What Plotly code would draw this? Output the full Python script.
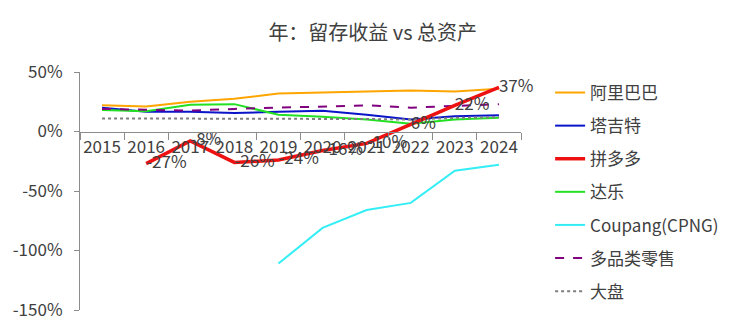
import plotly.graph_objects as go

years = ["2015", "2016", "2017", "2018", "2019", "2020", "2021", "2022", "2023", "2024"]

alibaba = [22, 21, 25, 27.5, 32, 33, 34, 34.5, 33.6, 36]
target = [20, 16.5, 16.5, 15.5, 16.5, 17.5, 14, 10, 12.8, 13.6]
pdd = [None, -27, -8, -26, -24, -16, -10, 6, 22, 37]
pdd_labels = ["", "-27%", "-8%", "-26%", "-24%", "-16%", "-10%", "6%", "22%", "37%"]
dollar_general = [18, 17, 22.5, 23, 14, 12.5, 10, 6.5, 10, 11.5]
coupang = [None, None, None, None, -111, -81, -66, -60, -33, -28]
multi_retail = [19, 18, 17.5, 19, 20, 20.5, 22, 20, 21.5, 23]
market = [11, 11, 11, 11, 11, 10.5, 10.5, 10, 11.5, 12]

y_ticks = [-150, -100, -50, 0, 50]
y_tick_labels = ["-150%", "-100%", "-50%", "0%", "50%"]

names = ["阿里巴巴", "塔吉特", "拼多多", "达乐", "Coupang(CPNG)", "多品类零售", "大盘"]

FONT = "Noto Sans CJK SC"
TXT = "#404040"

fig = go.Figure()

def add(y, name, color, width, dash, rank):
    fig.add_trace(go.Scatter(
        x=years, y=y, name=name, mode="lines",
        line=dict(color=color, width=width, dash=dash),
        legendgroup=name, legendrank=rank,
    ))

add(alibaba, names[0], "#FFA500", 2, "solid", 1)
add(target, names[1], "#0A14C8", 2, "solid", 2)
add(dollar_general, names[3], "#22E022", 2, "solid", 4)
add(coupang, names[4], "#33EEF5", 2, "solid", 5)
add(multi_retail, names[5], "#800080", 2, "dash", 6)
add(market, names[6], "#7F7F7F", 2, "dot", 7)

fig.add_trace(go.Scatter(
    x=years, y=pdd, name=names[2], mode="lines+text",
    text=pdd_labels, textposition="middle right",
    textfont=dict(size=17, color=TXT, family=FONT),
    line=dict(color="#EE1111", width=3.5),
    legendgroup=names[2], legendrank=3, cliponaxis=False,
))

fig.update_layout(
    width=750, height=333,
    margin=dict(l=80, r=229, t=72, b=21),
    paper_bgcolor="white", plot_bgcolor="white",
    font=dict(family=FONT, color=TXT, size=17),
    title=dict(text="年：留存收益 vs 总资产", x=0.497, xanchor="center",
               y=0.9, yanchor="middle", yref="container",
               font=dict(size=20, color=TXT, family=FONT)),
    showlegend=True,
    legend=dict(x=1.066, xanchor="left", y=0.9875, yanchor="top",
                traceorder="grouped", tracegroupgap=8,
                font=dict(size=17, color=TXT, family=FONT),
                bgcolor="rgba(0,0,0,0)"),
    xaxis=dict(type="category", anchor="free", position=0.75,
               showline=True, linecolor="#8C8C8C", linewidth=1,
               ticks="outside", ticklen=7, tickcolor="#8C8C8C",
               tickson="boundaries", showgrid=False, zeroline=False,
               tickangle=0,
               tickfont=dict(size=17, color=TXT, family=FONT)),
    yaxis=dict(range=[-150, 50], tickmode="array", tickvals=y_ticks,
               ticktext=y_tick_labels, showline=True, linecolor="#8C8C8C",
               ticks="outside", ticklen=5, tickcolor="#8C8C8C",
               showgrid=False, zeroline=False, ticklabelstandoff=8,
               tickfont=dict(size=17, color=TXT, family=FONT)),
)

fig.write_html("out.html")
